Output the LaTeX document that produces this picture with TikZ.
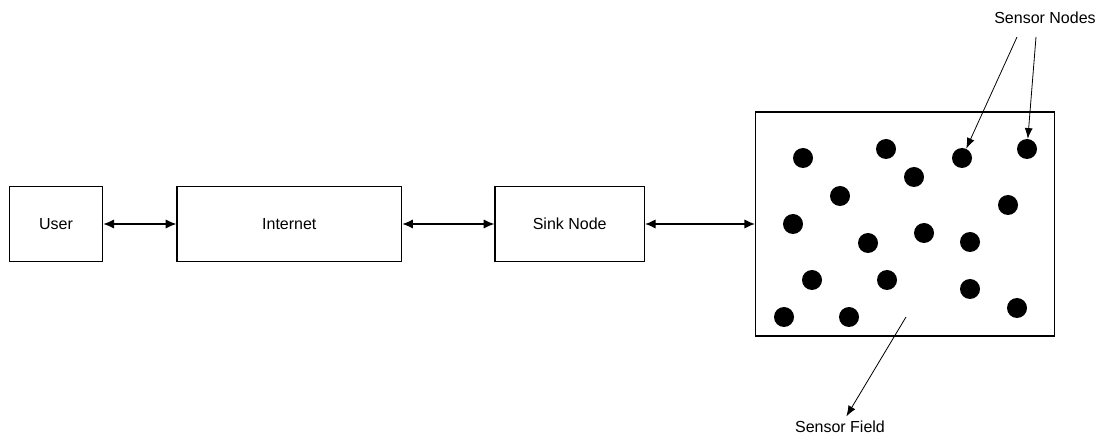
\documentclass[tikz,border=0pt]{standalone}
\usepackage{fontspec}
\setmainfont{Liberation Sans}
\usetikzlibrary{arrows.meta}

\begin{document}
\begin{tikzpicture}[x=0.75pt, y=-0.75pt, every node/.style={font=\fontsize{12}{14}\selectfont},
		box/.style={draw, line width=1pt, minimum height=56pt, inner sep=0pt},
		mote/.style={circle, fill=black, minimum size=15pt, inner sep=0pt},
		link/.style={{Latex[length=8pt,width=7pt]}-{Latex[length=8pt,width=7pt]}, line width=1pt},
		pointer/.style={-{Latex[length=8pt,width=6pt]}, line width=0.6pt}]
		\useasboundingbox (0,0) rectangle (1106,434);
		\node[box, minimum width=70pt](user) at (56,224){User};
		\node[box, minimum width=168.5pt](inet) at (289.3,224){Internet};
		\node[box, minimum width=112pt](sink) at (569.7,224){Sink Node};
		\node[box, minimum width=224pt, minimum height=168pt](field) at (905,224){};
		\draw[link] (user) -- (inet);
		\draw[link] (inet) -- (sink);
		\draw[link] (sink) -- (field);
		% sensor nodes
		\foreach \x/\y [count=\i] in {803/158, 886/149, 914/177, 962/158, 1027/149, 840/196, 1008/205, 793/224, 868/243, 924/233, 970/242, 812/280, 887/280, 970/289, 1017/308, 784/317, 849/317}
			\node[mote](m\i) at (\x,\y){};
		\node(nodeslbl) at (1045,18){Sensor Nodes};
		\coordinate(p1) at (1017,37);
		\coordinate(p2) at (1036,37);
		\draw[pointer] (p1) -- (m4);
		\draw[pointer] (p2) -- (m5);
		\node(fieldlbl) at (840,427){Sensor Field};
		\coordinate(p3) at (906,317);
		\draw[pointer] (p3) -- (fieldlbl);
	\end{tikzpicture}
\end{document}
